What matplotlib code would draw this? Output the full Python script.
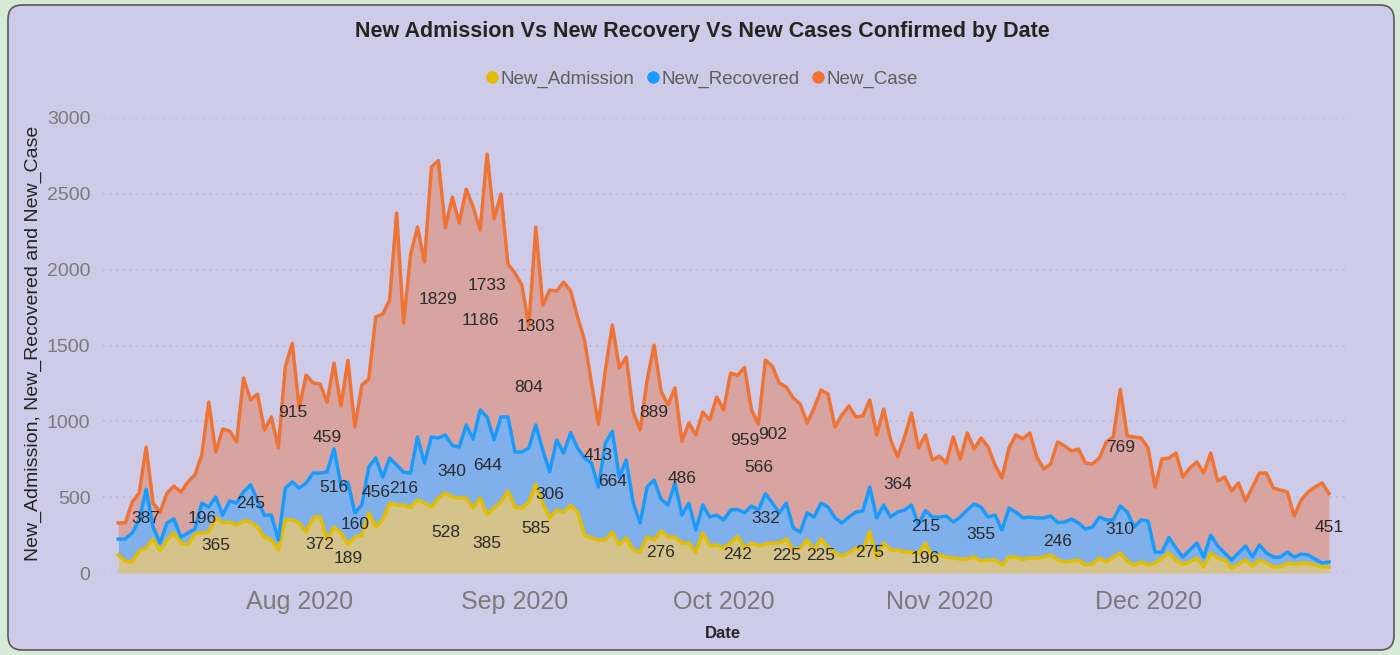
import numpy as np
import pandas as pd
import matplotlib
matplotlib.use("Agg")
import matplotlib.pyplot as plt
import matplotlib.dates as mdates
from matplotlib.lines import Line2D
from matplotlib.patches import FancyBboxPatch

plt.rcParams['font.family'] = ['Liberation Sans', 'DejaVu Sans']

# daily values, starting 6 Jul 2020
start = '2020-07-06'

new_admission = [119, 79, 73, 145, 165, 224, 145, 218, 264, 198,
                 185, 257, 264, 270, 365, 330, 336, 316, 343, 336,
                 303, 237, 218, 152, 350, 350, 330, 270, 363, 372,
                 218, 303, 264, 189, 237, 250, 396, 303, 350, 461,
                 448, 448, 432, 481, 461, 435, 494, 528, 501, 494,
                 494, 428, 494, 385, 428, 468, 541, 435, 428, 468,
                 585, 461, 363, 415, 400, 445, 402, 250, 231, 218,
                 218, 270, 185, 231, 152, 138, 237, 218, 276, 237,
                 237, 198, 198, 138, 264, 178, 185, 165, 198, 242,
                 165, 198, 178, 191, 198, 198, 225, 152, 165, 218,
                 152, 225, 171, 132, 112, 132, 165, 152, 275, 99,
                 198, 152, 152, 138, 138, 132, 196, 105, 119, 105,
                 99, 92, 92, 105, 79, 86, 86, 53, 105, 105,
                 90, 99, 99, 105, 119, 86, 73, 79, 86, 53,
                 59, 99, 73, 105, 132, 79, 53, 73, 53, 66,
                 99, 132, 86, 59, 73, 99, 40, 132, 99, 86,
                 33, 59, 86, 46, 86, 66, 40, 40, 66, 59,
                 66, 66, 53, 40, 40]

new_recovered = [105, 145, 191, 205, 387, 79, 53, 112, 92, 39,
                 79, 33, 196, 165, 136, 52, 139, 145, 191, 245,
                 178, 143, 164, 66, 210, 250, 230, 323, 296, 287,
                 448, 516, 316, 409, 160, 198, 303, 456, 283, 297,
                 264, 216, 227, 416, 264, 462, 396, 382, 340, 337,
                 482, 455, 581, 644, 449, 561, 488, 363, 370, 356,
                 391, 350, 306, 462, 391, 480, 422, 508, 494, 349,
                 639, 664, 448, 514, 309, 192, 330, 395, 211, 211,
                 356, 184, 263, 145, 184, 191, 197, 185, 217, 178,
                 231, 244, 237, 332, 263, 198, 236, 145, 105, 178,
                 217, 236, 264, 231, 218, 237, 237, 257, 292, 264,
                 250, 217, 250, 277, 310, 188, 215, 264, 250, 271,
                 237, 277, 323, 350, 355, 283, 296, 230, 323, 297,
                 273, 270, 264, 258, 257, 246, 263, 277, 244, 237,
                 244, 270, 277, 245, 310, 323, 250, 277, 290, 72,
                 39, 102, 79, 46, 79, 99, 65, 118, 79, 46,
                 53, 73, 92, 59, 99, 66, 65, 65, 72, 46,
                 59, 53, 39, 26, 33]

new_case = [106, 106, 204, 177, 278, 158, 204, 197, 217, 297,
            336, 356, 318, 692, 297, 567, 461, 403, 752, 560,
            699, 563, 647, 606, 798, 915, 528, 712, 594, 587,
            459, 565, 521, 804, 565, 791, 580, 929, 1074, 1042,
            1661, 984, 1441, 1384, 1325, 1780, 1829, 1365, 1638, 1476,
            1555, 1530, 1186, 1733, 1457, 1470, 1008, 1180, 1101, 804,
            1303, 956, 1197, 982, 1127, 935, 864, 778, 528, 413,
            481, 701, 719, 679, 600, 613, 705, 889, 712, 660,
            627, 486, 528, 627, 613, 640, 778, 725, 903, 883,
            959, 633, 566, 881, 902, 857, 765, 857, 844, 593,
            719, 745, 745, 599, 712, 732, 627, 626, 574, 547,
            633, 508, 364, 482, 607, 504, 499, 376, 402, 349,
            561, 383, 508, 362, 456, 462, 330, 343, 396, 508,
            522, 554, 402, 323, 343, 532, 501, 448, 487, 435,
            416, 389, 514, 547, 769, 501, 594, 540, 481, 429,
            614, 524, 626, 528, 540, 534, 554, 541, 429, 501,
            455, 461, 297, 462, 474, 527, 455, 442, 396, 271,
            356, 415, 475, 527, 451]

# days (index) that carry a data label in the original
admission_labels = [14, 29, 33, 47, 53, 60, 78, 89, 96, 101, 108, 116]
recovered_labels = [4, 12, 19, 31, 34, 37, 41, 48, 53, 62, 71, 93, 116, 124, 135, 144]
case_labels = [25, 30, 46, 52, 53, 59, 60, 69, 77, 81, 90, 92, 94, 112, 144, 174]

series_names = ['New_Admission', 'New_Recovered', 'New_Case']
line_colors = ['#E3BE00', '#1A9BFC', '#EE7436']
fill_colors = ['#D4C38B', '#80B0EC', '#D8A4A2']
bg = '#CECBE8'

dates = pd.date_range(start, periods=len(new_case), freq='D')
vals = np.array([new_admission, new_recovered, new_case], dtype=float)
tops = np.cumsum(vals, axis=0)
bases = np.vstack([np.zeros(len(dates)), tops[:-1]])

fig = plt.figure(figsize=(14, 6.55), dpi=100)
fig.patch.set_facecolor('#D6EAD5')
frame = FancyBboxPatch((8, 5), 1386, 645, boxstyle='round,pad=0,rounding_size=14',
                       facecolor=bg, edgecolor='#5a5a5a', linewidth=1.2,
                       transform=None, zorder=-10)
fig.patches.append(frame)

ax = fig.add_axes([103 / 1400, 1 - 573 / 655, (1345 - 103) / 1400, (573 - 118) / 655])
ax.patch.set_alpha(0)

for k in range(3):
    ax.fill_between(dates, bases[k], tops[k], color=fill_colors[k], linewidth=0, zorder=2)
for k in range(3):
    ax.plot(dates, tops[k], color=line_colors[k], lw=2.5, zorder=3 + k,
            solid_joinstyle='round')

for k, idx in enumerate([admission_labels, recovered_labels, case_labels]):
    for i in idx:
        ax.text(dates[i], bases[k][i] + vals[k][i] / 2, str(int(vals[k][i])),
                ha='center', va='center', fontsize=12.5, color='#2b2b2b', zorder=10)

ax.set_ylim(0, 3000)
ax.set_xlim(dates[0] - pd.Timedelta(days=2.2), dates[-1] + pd.Timedelta(days=2.3))
ax.set_yticks(np.arange(0, 3001, 500))
ax.grid(axis='y', color='#B7B4D2', linestyle=(0, (1, 3)), lw=1.2, zorder=1)
ax.set_axisbelow(True)
for s in ax.spines.values():
    s.set_visible(False)

ax.xaxis.set_major_locator(mdates.MonthLocator(bymonth=[8, 9, 10, 11, 12]))
ax.xaxis.set_major_formatter(mdates.DateFormatter('%b %Y'))
ax.tick_params(axis='x', length=0, pad=12, labelsize=18, labelcolor='#7a7a7a')
ax.tick_params(axis='y', length=0, pad=9, labelsize=14, labelcolor='#7a7a7a')

fig.text(702 / 1400, 1 - 32 / 655, 'New Admission Vs New Recovery Vs New Cases Confirmed by Date',
         ha='center', va='center', fontsize=15.5, fontweight='bold', color='#252423')
fig.text(723 / 1400, 1 - 633 / 655, 'Date', ha='center', va='center',
         fontsize=12, fontweight='bold', color='#252423')
fig.text(33 / 1400, 1 - 343 / 655, 'New_Admission, New_Recovered and New_Case',
         rotation=90, ha='center', va='center', fontsize=14, color='#252423')

handles = [Line2D([], [], marker='o', ls='none', color=c, markersize=8) for c in line_colors]
fig.legend(handles, series_names, loc='center', bbox_to_anchor=(701 / 1400, 1 - 79 / 655),
           ncol=3, frameon=False, fontsize=13.5, labelcolor='#605E5C',
           handletextpad=0.05, columnspacing=0.6, handlelength=0.8)

fig.savefig('out.png', dpi=100, facecolor=fig.get_facecolor())
